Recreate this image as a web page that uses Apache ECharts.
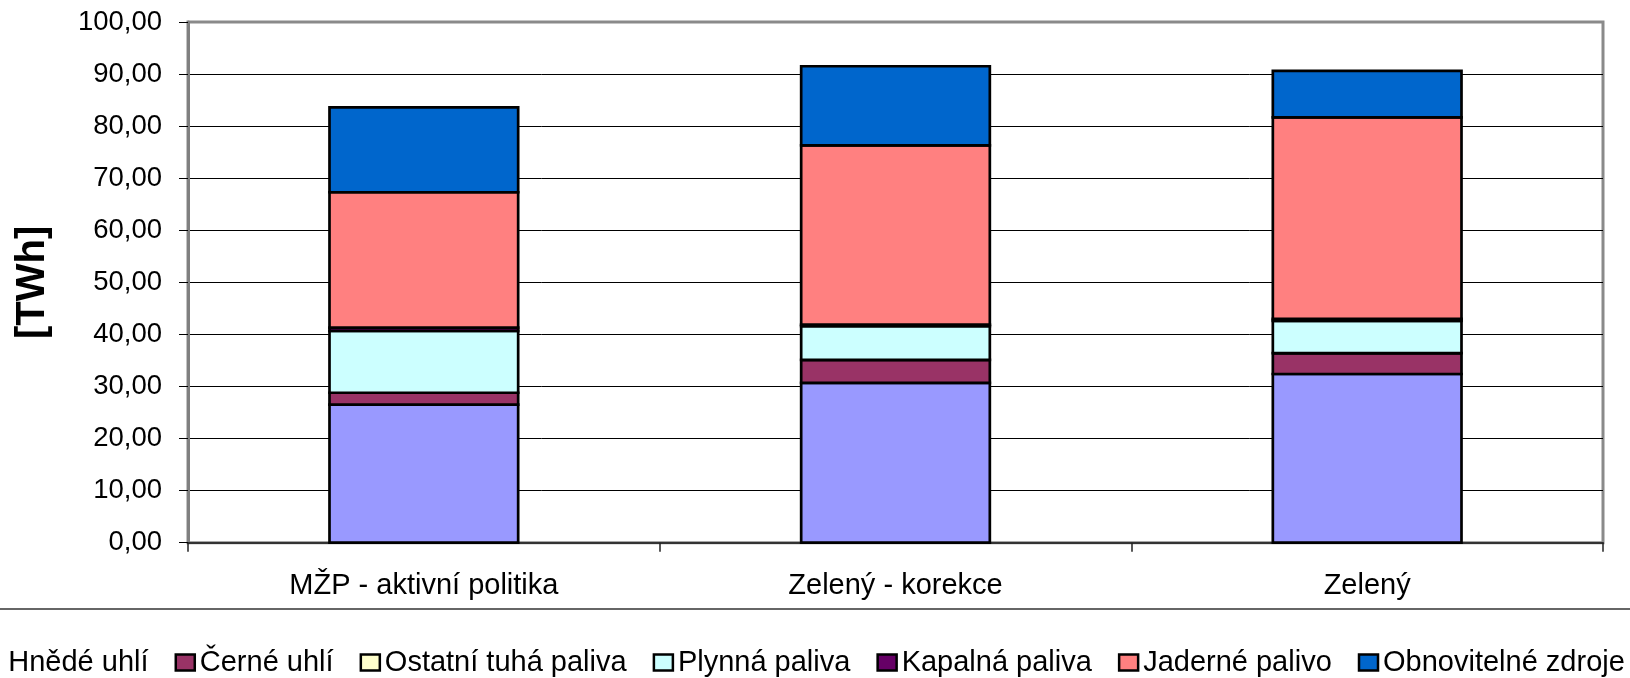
<!DOCTYPE html>
<html><head><meta charset="utf-8">
<script src="https://cdn.jsdelivr.net/npm/echarts@6/dist/echarts.min.js"></script>
<style>html,body{margin:0;padding:0;background:#fff}#c{width:1630px;height:678px}</style>
</head><body><div id="c"></div>
<script>
// ---- data ----
const categories = ['MŽP - aktivní politika', 'Zelený - korekce', 'Zelený'];
const seriesNames = ['Hnědé uhlí', 'Černé uhlí', 'Ostatní tuhá paliva', 'Plynná paliva', 'Kapalná paliva', 'Jaderné palivo', 'Obnovitelné zdroje'];
const hnedeUhli = [26.5, 30.7, 32.4];
const cerneUhli = [2.3, 4.4, 4.0];
const ostatniTuhaPaliva = [0, 0, 0];
const plynnaPaliva = [11.9, 6.5, 6.2];
const kapalnaPaliva = [0.6, 0.3, 0.4];
const jadernePalivo = [26.0, 34.4, 38.7];
const obnovitelneZdroje = [16.3, 15.2, 8.9];
const yMin = 0, yMax = 100, yStep = 10;
const yAxisTitle = '[TWh]';

// ---- styles ----
const palette = ['#9999FF', '#993366', '#FFFFCC', '#CCFFFF', '#660066', '#FF8080', '#0066CC'];
const FONT = '"Liberation Sans", Arial, sans-serif';
const BAR_FRACTION = 0.4;
const BAR_BORDER = 2.7;

const seriesValues = [hnedeUhli, cerneUhli, ostatniTuhaPaliva, plynnaPaliva, kapalnaPaliva, jadernePalivo, obnovitelneZdroje];

// stacked [categoryIndex, base, top] rows built from the arrays above
const running = categories.map(() => 0);
const stackedRows = seriesValues.map(vals => vals.map((v, ci) => {
  const base = running[ci];
  running[ci] = base + v;
  return [ci, base, base + v];
}));

function renderSegment(params, api) {
  const ci = api.value(0);
  const p0 = api.coord([ci, api.value(1)]);
  const p1 = api.coord([ci, api.value(2)]);
  const w = api.size([1, 0])[0] * BAR_FRACTION;
  return {
    type: 'rect',
    shape: {x: p0[0] - w / 2, y: p1[1], width: w, height: p0[1] - p1[1]},
    style: {fill: api.visual('color'), stroke: '#000', lineWidth: BAR_BORDER}
  };
}

const chart = echarts.init(document.getElementById('c'), null, {renderer: 'canvas'});
chart.setOption({
  animation: false,
  backgroundColor: '#fff',
  textStyle: {fontFamily: FONT},
  grid: {left: 188, right: 27, top: 22, bottom: 135.3, show: true, borderColor: '#8a8a8a', borderWidth: 3, backgroundColor: 'transparent'},
  legend: {
    left: -25, top: 648, width: 1800, padding: 0, itemGap: 26,
    itemWidth: 19, itemHeight: 16,
    textStyle: {fontSize: 29, color: '#000', fontFamily: FONT},
    data: seriesNames.map((n, i) => ({
      name: n, icon: 'rect',
      itemStyle: {color: palette[i], borderColor: '#000', borderWidth: 2.5},
      textStyle: i === 0 ? {padding: [0, 0, 0, 8]} : undefined
    }))
  },
  xAxis: {
    type: 'category', data: categories,
    axisLine: {show: true, lineStyle: {color: '#333', width: 2}},
    axisTick: {show: true, length: 9, lineStyle: {color: '#222', width: 1.5}},
    axisLabel: {fontSize: 29, color: '#000', margin: 29, fontFamily: FONT},
    splitLine: {show: false}
  },
  yAxis: {
    type: 'value', min: yMin, max: yMax, interval: yStep,
    name: yAxisTitle, nameLocation: 'middle', nameRotate: 90, nameGap: 135,
    nameTextStyle: {fontSize: 40, fontWeight: 'bold', color: '#000', fontFamily: FONT},
    axisLine: {show: true, lineStyle: {color: '#808080', width: 3}},
    axisTick: {show: true, length: 9, lineStyle: {color: '#000', width: 1}},
    axisLabel: {fontSize: 27.5, color: '#000', margin: 26, fontFamily: FONT,
      formatter: v => v.toFixed(2).replace('.', ',')},
    splitLine: {show: true, showMinLine: false, showMaxLine: false, lineStyle: {color: '#000', width: 1}}
  },
  series: seriesNames.map((n, i) => ({
    name: n, type: 'custom',
    data: stackedRows[i],
    encode: {x: 0, y: [1, 2]},
    itemStyle: {color: palette[i]},
    renderItem: renderSegment,
    z: 3
  })),
  graphic: [{
    type: 'line', shape: {x1: 0, y1: 609, x2: 1630, y2: 609},
    style: {stroke: '#666', lineWidth: 2}, z: 10
  }]
});
</script></body></html>
